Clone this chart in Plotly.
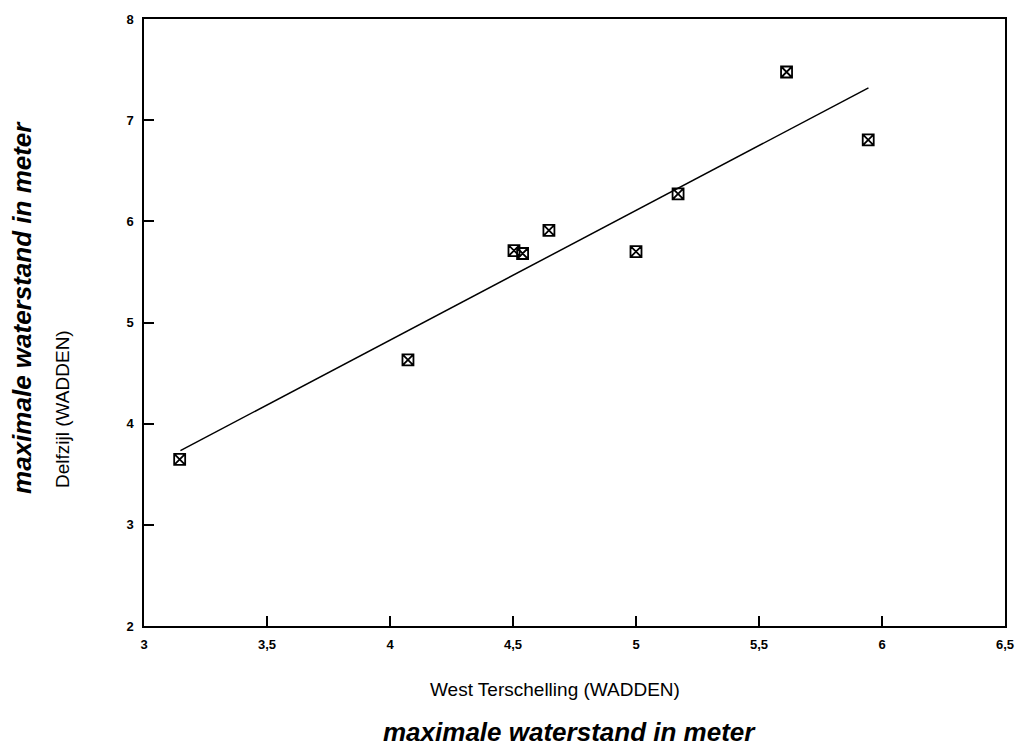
import plotly.graph_objects as go

# Observations: West Terschelling (x) vs Delfzijl (y), maximale waterstand in meter
terschelling = [3.145, 4.073, 4.504, 4.539, 4.646, 5.000, 5.171, 5.612, 5.944]
delfzijl = [3.648, 4.631, 5.711, 5.682, 5.911, 5.701, 6.271, 7.476, 6.805]

# Regression line, read at its two ends
fit_x = [3.148, 5.945]
fit_y = [3.734, 7.319]

x_ticks = [3, 3.5, 4, 4.5, 5, 5.5, 6, 6.5]
x_tick_labels = ["3", "3,5", "4", "4,5", "5", "5,5", "6", "6,5"]
y_ticks = [2, 3, 4, 5, 6, 7, 8]
y_tick_labels = ["2", "3", "4", "5", "6", "7", "8"]

fig = go.Figure()
fig.add_trace(go.Scatter(x=fit_x, y=fit_y, mode="lines",
                         line=dict(color="black", width=1.5), showlegend=False))
fig.add_trace(go.Scatter(x=terschelling, y=delfzijl, mode="markers",
                         marker=dict(symbol="square-x-open", size=11, color="black",
                                     line=dict(width=1.8, color="black")),
                         showlegend=False))

axis_common = dict(showgrid=False, zeroline=False, showline=True, linecolor="black",
                   linewidth=1.5, mirror=True, ticks="inside", ticklen=10,
                   tickwidth=1.5, tickcolor="black", ticklabeloverflow="allow",
                   ticklabelstandoff=6,
                   tickfont=dict(family="Liberation Sans, Arial", size=13, color="black",
                                 weight="bold"))

fig.update_xaxes(range=[3, 6.5], tickvals=x_ticks, ticktext=x_tick_labels, **axis_common)
fig.update_yaxes(range=[2, 8], tickvals=y_ticks, ticktext=y_tick_labels, **axis_common)

fig.add_annotation(text="West Terschelling (WADDEN)", xref="paper", yref="paper",
                   x=0.477, y=-0.105, xanchor="center", yanchor="middle", showarrow=False,
                   font=dict(family="Liberation Sans, Arial", size=19, color="black"))
fig.add_annotation(text="<b><i>maximale waterstand in meter</i></b>", xref="paper", yref="paper",
                   x=0.494, y=-0.175, xanchor="center", yanchor="middle", showarrow=False,
                   font=dict(family="Liberation Sans, Arial", size=26, color="black"))
fig.add_annotation(text="Delfzijl (WADDEN)", xref="paper", yref="paper",
                   x=-0.0945, y=0.357, xanchor="center", yanchor="middle", showarrow=False,
                   textangle=-90,
                   font=dict(family="Liberation Sans, Arial", size=19, color="black"))
fig.add_annotation(text="<b><i>maximale waterstand in meter</i></b>", xref="paper", yref="paper",
                   x=-0.141, y=0.525, xanchor="center", yanchor="middle", showarrow=False,
                   textangle=-90,
                   font=dict(family="Liberation Sans, Arial", size=26, color="black"))

fig.update_layout(width=1026, height=747, plot_bgcolor="white", paper_bgcolor="white",
                  margin=dict(l=144, r=14, t=15, b=121))

fig.write_html("out.html", config={"displayModeBar": False},
               post_script="document.body.style.margin='0px';")
